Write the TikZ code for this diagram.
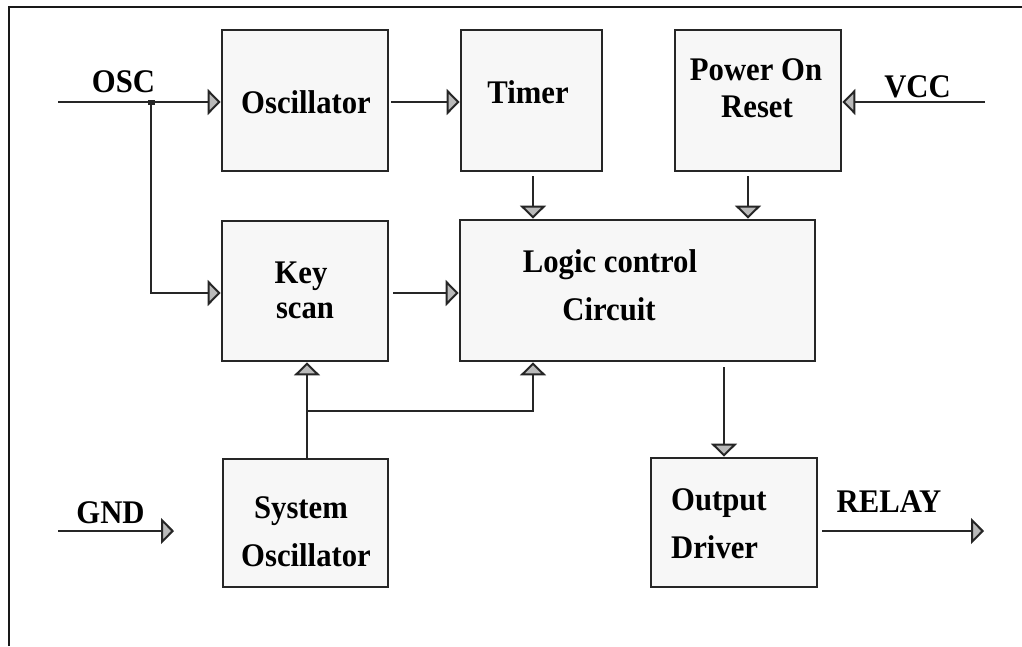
\documentclass[tikz,border=0pt]{standalone}
\usepackage{fontspec}
\setmainfont[FakeStretch=0.93]{Liberation Serif}
\usetikzlibrary{arrows.meta}
\tikzset{
  box/.style={draw=black!85, line width=2.8pt, fill=black!3, inner sep=0pt, rectangle},
  lbl/.style={font=\fontsize{33}{38}\selectfont\bfseries, inner sep=0pt, anchor=base},
  arr/.style={draw=black!85, line width=2.8pt,
    -{Triangle[length=13pt,width=26pt,fill=black!27,line width=2pt]}},
  frame/.style={draw=black!90, line width=2.8pt},
}
\begin{document}
\begin{tikzpicture}[x=1pt,y=-1pt]
\useasboundingbox (0,0) rectangle (1022,646);
\draw[frame] (9,646) -- (9,7) -- (1022,7);

% boxes
\node[box, minimum width=166pt, minimum height=141pt] (osc)   at (305,100.5) {};
\node[box, minimum width=141pt, minimum height=141pt] (timer) at (531.5,100.5) {};
\node[box, minimum width=166pt, minimum height=141pt] (por)   at (758,100.5) {};
\node[box, minimum width=166pt, minimum height=140pt] (key)   at (305,291) {};
\node[box, minimum width=355pt, minimum height=141pt] (logic) at (637.5,290.5) {};
\node[box, minimum width=165pt, minimum height=128pt] (sys)   at (305.5,523) {};
\node[box, minimum width=166pt, minimum height=129pt] (out)   at (734,522.5) {};

% box texts
\node[lbl] (toscA) at (306,113) {Oscillator};
\node[lbl] (ttim)  at (528,103) {Timer};
\node[lbl] (tporA) at (756,80) {Power On};
\node[lbl] (tporB) at (757,117) {Reset};
\node[lbl] (tkeyA) at (301,283) {Key};
\node[lbl] (tkeyB) at (305,318) {scan};
\node[lbl] (tlogA) at (610,272) {Logic control};
\node[lbl] (tlogB) at (609,320) {Circuit};
\node[lbl] (tsysA) at (301,518) {System};
\node[lbl] (tsysB) at (306,566) {Oscillator};
\node[lbl, anchor=base west] (toutA) at (671,510) {Output};
\node[lbl, anchor=base west] (toutB) at (671,558) {Driver};

% signal labels
\node[lbl] (lOSC)   at (123.5,92) {OSC};
\node[lbl] (lVCC)   at (917.5,97) {VCC};
\node[lbl] (lGND)   at (110.5,523) {GND};
\node[lbl] (lRELAY) at (889,512) {RELAY};

% coordinates
\coordinate (oscin) at (58,102);
\coordinate (jn)    at (151,102);
\coordinate (vccin) at (985,102);
\coordinate (br)    at (307,411);
\coordinate (gndin) at (58,531);
\coordinate (gndt)  at (174,531);
\coordinate (relt)  at (984,531);
\coordinate (xa)    at (533,0);
\coordinate (xb)    at (748,0);
\coordinate (xc)    at (724,0);
\coordinate (xk)    at (307,0);

% connectors
\draw[arr] (oscin) -- (oscin -| osc.west);
\fill[black!85] ([xshift=-3.5pt,yshift=2pt]jn) rectangle ([xshift=3.5pt,yshift=-2.5pt]jn);
\draw[arr] (jn) |- ([yshift=-2pt]key.west);
\draw[arr] ([xshift=2pt,yshift=-1.5pt]osc.east) -- ([yshift=-1.5pt]timer.west);
\draw[arr] (vccin) -- (vccin -| por.east);
\draw[arr] ([yshift=-4pt]xa |- timer.south) -- (xa |- logic.north);
\draw[arr] ([yshift=-4pt]xb |- por.south) -- (xb |- logic.north);
\draw[arr] ([xshift=4pt,yshift=-2pt]key.east) -- ([yshift=-2pt]key.east -| logic.west);
\draw[arr] ([yshift=-5pt]xc |- logic.south) -- (xc |- out.north);
\draw[arr] (xk |- sys.north) -- (xk |- key.south);
\draw[arr] (br) -| (xa |- logic.south);
\draw[arr] (gndin) -- (gndt);
\draw[arr] ([xshift=4pt]relt -| out.east) -- (relt);
\end{tikzpicture}
\end{document}
